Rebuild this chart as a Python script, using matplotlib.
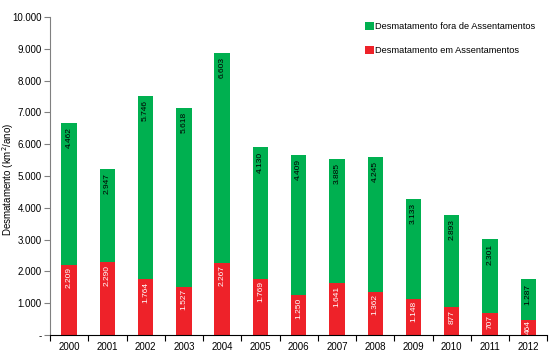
import matplotlib.pyplot as plt
import numpy as np
from matplotlib.ticker import FuncFormatter, FixedLocator

plt.rcParams['font.family'] = ['Liberation Sans', 'DejaVu Sans']

years = ["2000", "2001", "2002", "2003", "2004", "2005", "2006",
         "2007", "2008", "2009", "2010", "2011", "2012"]
em_assent = [2209, 2290, 1764, 1527, 2267, 1769, 1250, 1641, 1362, 1148, 877, 707, 464]
fora_assent = [4462, 2947, 5746, 5618, 6603, 4130, 4409, 3885, 4245, 3133, 2893, 2301, 1287]

green = "#00b050"
red = "#ee2229"

def fmt(v):
    return f"{int(v):,}".replace(",", ".")

fig = plt.figure(figsize=(5.6, 3.58), dpi=100)
ax = fig.add_axes([0.0893, 0.064, 0.888, 0.8885])

x = np.arange(len(years))
w = 0.4
ax.bar(x, fora_assent, w, bottom=em_assent, color=green,
       label="Desmatamento fora de Assentamentos")
ax.bar(x, em_assent, w, color=red, label="Desmatamento em Assentamentos")

for i in range(len(years)):
    # keep short labels inside their bar
    off = min(80, max(em_assent[i] - 460, 0))
    ax.text(x[i], em_assent[i] - off, fmt(em_assent[i]), rotation=90,
            ha="center", va="top", fontsize=6, color="white")
    ax.text(x[i], em_assent[i] + fora_assent[i] - 130, fmt(fora_assent[i]),
            rotation=90, ha="center", va="top", fontsize=6, color="black")

ax.set_xlim(-0.5, len(years) - 0.5)
ax.set_ylim(0, 10000)
ax.set_yticks(np.arange(0, 10001, 1000))
ax.yaxis.set_major_formatter(FuncFormatter(lambda v, p: "-" if v == 0 else fmt(v)))
ax.set_xticks(x)
ax.set_xticklabels(years)
ax.xaxis.set_minor_locator(FixedLocator(np.arange(-0.5, len(years), 1)))
ax.tick_params(axis="x", which="major", length=0, labelsize=7, pad=5)
ax.tick_params(axis="x", which="minor", length=4, width=0.8, direction="out")
ax.tick_params(axis="y", labelsize=7, length=4, width=0.8, color="#808080", pad=2)

for s in ["top", "right"]:
    ax.spines[s].set_visible(False)
ax.spines["left"].set_color("#808080")
ax.spines["bottom"].set_color("black")

fig.text(8 / 560, 0.5, "Desmatamento (km$^2$/ano)", rotation=90,
         ha="center", va="center", fontsize=7)

handles, labels = ax.get_legend_handles_labels()
ax.legend(handles, labels, loc="upper left", bbox_to_anchor=(0.617, 1.01),
          frameon=False, fontsize=6.7, handlelength=0.9, handleheight=0.9,
          handletextpad=0.2, labelspacing=1.6)

fig.savefig("out.png", dpi=100)
